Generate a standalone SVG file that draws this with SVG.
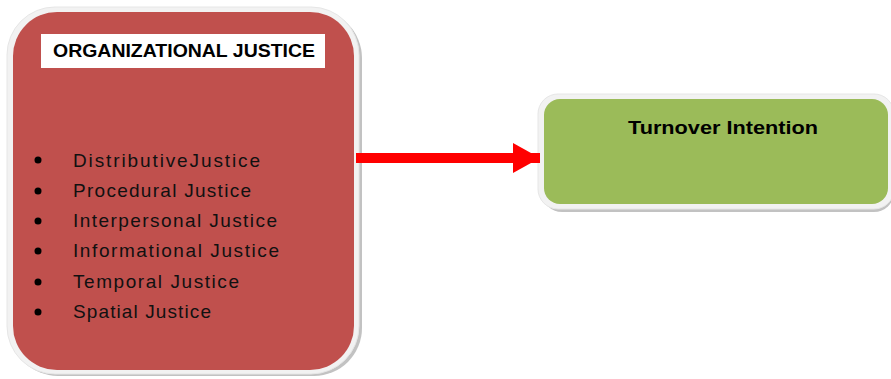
<svg xmlns="http://www.w3.org/2000/svg" width="891" height="379" viewBox="0 0 891 379">
<style>
.frame{fill:#f2f2f2;stroke:#e6e6e6;stroke-width:1}
.shadow{fill:#9a9a9a;opacity:0.6}
.item{font-family:"Liberation Sans",Arial,sans-serif;font-size:19px;fill:#111}
.title{font-family:"Liberation Sans",Arial,sans-serif;font-size:19px;font-weight:bold;fill:#000}
</style>
<defs>
<marker id="ah" markerWidth="27" markerHeight="30" refX="27" refY="15" markerUnits="userSpaceOnUse" orient="auto">
<polygon points="0,0 27,15 0,30" fill="#ff0000"/>
</marker>
</defs>
<g id="org-justice">
<rect class="shadow" x="10" y="10" width="352" height="366" rx="48"/>
<rect class="frame" x="7" y="7" width="352" height="367" rx="48"/>
<rect x="13" y="12" width="341" height="358" rx="44" fill="#c0504d"/>
<rect x="41" y="34" width="284" height="34" fill="#ffffff"/>
<text class="title" x="53" y="57" textLength="262" lengthAdjust="spacingAndGlyphs">ORGANIZATIONAL JUSTICE</text>
<g fill="#000">
<circle cx="38" cy="160" r="3.5"/>
<circle cx="38" cy="191" r="3.5"/>
<circle cx="38" cy="221" r="3.5"/>
<circle cx="38" cy="251" r="3.5"/>
<circle cx="38" cy="282" r="3.5"/>
<circle cx="38" cy="312" r="3.5"/>
</g>
<text class="item" x="73" y="167" textLength="187" lengthAdjust="spacing">DistributiveJustice</text>
<text class="item" x="73" y="197" textLength="178" lengthAdjust="spacing">Procedural Justice</text>
<text class="item" x="73" y="227" textLength="204" lengthAdjust="spacing">Interpersonal Justice</text>
<text class="item" x="73" y="257" textLength="206" lengthAdjust="spacing">Informational Justice</text>
<text class="item" x="73" y="288" textLength="166" lengthAdjust="spacing">Temporal Justice</text>
<text class="item" x="73" y="318" textLength="138" lengthAdjust="spacing">Spatial Justice</text>
</g>
<g id="turnover">
<rect class="shadow" x="542" y="97" width="352" height="115" rx="20"/>
<rect class="frame" x="538" y="94" width="356" height="115" rx="20"/>
<rect x="544" y="99" width="344" height="105" rx="16" fill="#9bbb59"/>
<text class="title" x="628" y="134" textLength="190" lengthAdjust="spacingAndGlyphs">Turnover Intention</text>
</g>
<g id="connectors">
<line x1="356" y1="158" x2="540" y2="158" stroke="#ff0000" stroke-width="10" marker-end="url(#ah)"/>
</g>
</svg>
